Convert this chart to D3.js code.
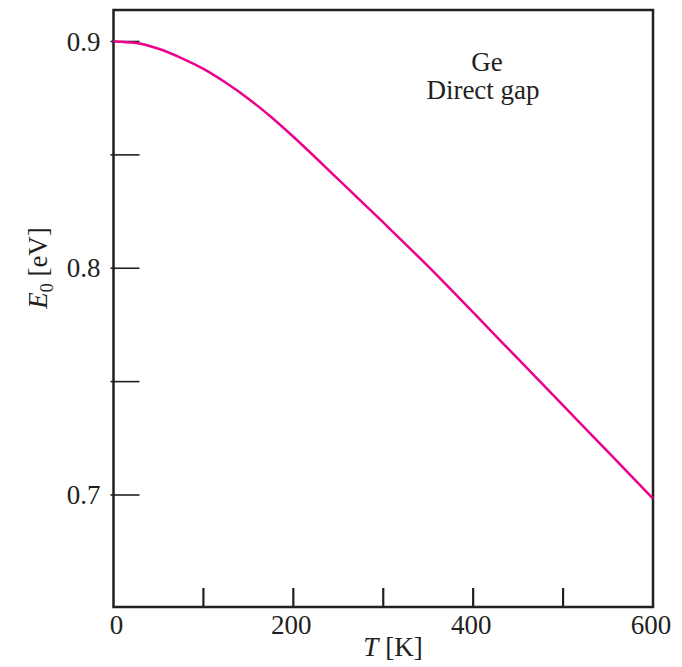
<!DOCTYPE html>
<html>
<head>
<meta charset="utf-8">
<script src="https://cdn.jsdelivr.net/npm/d3@7"></script>
<style>
  body { margin: 0; background: #fff; }
  text { font-family: "Liberation Serif", "Times New Roman", serif; fill: #231f20; }
</style>
</head>
<body>
<div id="chart"></div>
<script>
// data (Ge direct gap vs temperature)
const temps = [0, 25, 50, 75, 100, 125, 150, 175, 200, 250, 300, 350, 400, 450, 500, 550, 600];
const gaps = [0.900, 0.8993, 0.8968, 0.8928, 0.8879, 0.8818, 0.8748, 0.8668, 0.8580, 0.8392, 0.8202, 0.8008, 0.7805, 0.7600, 0.7395, 0.7190, 0.6984];
const xTicks = [0, 100, 200, 300, 400, 500, 600];
const xLabels = [0, 200, 400, 600];
const yTicks = [0.7, 0.75, 0.8, 0.85, 0.9];
const yLabels = [0.7, 0.8, 0.9];

const width = 682, height = 667;
const margin = { top: 10, right: 29, bottom: 60, left: 113.5 };
const ink = "#231f20";

const svg = d3.select("#chart").append("svg")
  .attr("width", width)
  .attr("height", height);

const xScale = d3.scaleLinear()
  .domain([0, 600])
  .range([margin.left, width - margin.right]);

const yScale = d3.scaleLinear()
  .domain([0.6506, 0.9139])
  .range([height - margin.bottom, margin.top]);

const x0 = xScale.range()[0], x1 = xScale.range()[1];
const yBot = yScale.range()[0], yTop = yScale.range()[1];

// ticks pointing inward
svg.append("g")
  .selectAll("line")
  .data(yTicks)
  .join("line")
  .attr("x1", x0 - 3)
  .attr("x2", x0 + 26)
  .attr("y1", d => yScale(d))
  .attr("y2", d => yScale(d))
  .attr("stroke", ink)
  .attr("stroke-width", 1.6);

svg.append("g")
  .selectAll("line")
  .data(xTicks.filter(d => d > 0 && d < 600))
  .join("line")
  .attr("x1", d => xScale(d))
  .attr("x2", d => xScale(d))
  .attr("y1", yBot)
  .attr("y2", yBot - 19)
  .attr("stroke", ink)
  .attr("stroke-width", 2.2);

// frame
svg.append("rect")
  .attr("x", x0)
  .attr("y", yTop)
  .attr("width", x1 - x0)
  .attr("height", yBot - yTop)
  .attr("fill", "none")
  .attr("stroke", ink)
  .attr("stroke-width", 2.5);

// tick labels
svg.append("g")
  .selectAll("text")
  .data(yLabels)
  .join("text")
  .attr("x", x0 - 13)
  .attr("y", d => yScale(d))
  .attr("dy", "0.34em")
  .attr("text-anchor", "end")
  .attr("font-size", 27)
  .text(d => d3.format(".1f")(d));

svg.append("g")
  .selectAll("text")
  .data(xLabels)
  .join("text")
  .attr("x", d => xScale(d) + (d === 0 ? 3 : -2))
  .attr("y", 634)
  .attr("text-anchor", "middle")
  .attr("font-size", 27)
  .text(d => d);

// axis titles
const xt = svg.append("text")
  .attr("x", 393)
  .attr("y", 656)
  .attr("text-anchor", "middle")
  .attr("font-size", 27);
xt.append("tspan").attr("font-style", "italic").text("T");
xt.append("tspan").text(" [K]");

const yt = svg.append("text")
  .attr("transform", "translate(47,268) rotate(-90)")
  .attr("text-anchor", "middle")
  .attr("font-size", 27);
yt.append("tspan").attr("font-style", "italic").text("E");
yt.append("tspan").attr("font-size", 18).attr("dy", 6).text("0");
yt.append("tspan").attr("dy", -6).text(" [eV]");

// annotation
svg.append("text")
  .attr("x", 487)
  .attr("y", 71)
  .attr("text-anchor", "middle")
  .attr("font-size", 27)
  .text("Ge");
svg.append("text")
  .attr("x", 483)
  .attr("y", 99)
  .attr("text-anchor", "middle")
  .attr("font-size", 27)
  .text("Direct gap");

// curve
const line = d3.line()
  .x((d, i) => xScale(temps[i]))
  .y(d => yScale(d))
  .curve(d3.curveMonotoneX);

svg.append("path")
  .datum(gaps)
  .attr("d", line)
  .attr("fill", "none")
  .attr("stroke", "#ec008c")
  .attr("stroke-width", 2.5);
</script>
</body>
</html>
